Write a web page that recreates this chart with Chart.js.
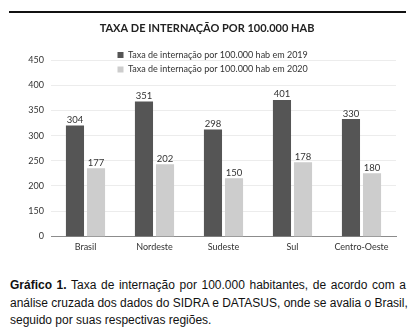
<!DOCTYPE html>
<html><head><meta charset="utf-8">
<script src="https://cdn.jsdelivr.net/npm/chart.js@4.4.0/dist/chart.umd.min.js"></script>
<style>
html,body{margin:0;padding:0;background:#fff;}
#wrap{position:relative;width:412px;height:334px;overflow:hidden;background:#fff;}
#rule{position:absolute;left:9px;top:11px;width:397px;height:2px;background:#111;}
#box{position:absolute;left:0;top:0;width:412px;height:262px;}
#cap{position:absolute;left:10px;top:277px;width:396px;font-family:"Liberation Sans",Arial,sans-serif;font-size:12px;line-height:17.5px;color:#111;}
#cap .j{text-align:justify;text-align-last:justify;white-space:nowrap;}
</style></head>
<body><div id="wrap"><div id="rule"></div>
<div id="box"><canvas id="cv" width="412" height="262"></canvas></div>
<div id="cap"><div class="j"><b>Gráfico 1.</b> Taxa de internação por 100.000 habitantes, de acordo com a</div><div class="j">análise cruzada dos dados do SIDRA e DATASUS, onde se avalia o Brasil,</div><div>seguido por suas respectivas regiões.</div></div>
</div>
<script>
const chartTitle = 'TAXA DE INTERNAÇÃO POR 100.000 HAB';
const categories = ['Brasil', 'Nordeste', 'Sudeste', 'Sul', 'Centro-Oeste'];
const seriesNames = ['Taxa de internação por 100.000 hab em 2019', 'Taxa de internação por 100.000 hab em 2020'];
// bar heights as drawn against the (broken) y axis of the picture
const bars2019 = [320, 368, 312, 371, 333];
const bars2020 = [235, 243, 215, 247, 225];
// values printed above the bars
const labels2019 = [304, 351, 298, 401, 330];
const labels2020 = [177, 202, 150, 178, 180];
// y axis: the bottom tick is labelled 0 in the picture
const yTickValues = [100, 150, 200, 250, 300, 350, 400, 450];
const yTickLabels = ['0', '150', '200', '250', '300', '350', '400', '450'];
const colors = ['#555555', '#cdcdcd'];

const FONT = 'Lato';

const valueLabels = {
  id: 'valueLabels',
  afterDatasetsDraw(chart) {
    const ctx = chart.ctx;
    const sets = [labels2019, labels2020];
    ctx.save();
    ctx.font = '9.5px ' + FONT;
    ctx.fillStyle = '#333';
    ctx.textAlign = 'center';
    ctx.textBaseline = 'alphabetic';
    chart.data.datasets.forEach((ds, di) => {
      chart.getDatasetMeta(di).data.forEach((el, i) => {
        ctx.fillText(String(sets[di][i]), el.x, el.y - 2.5);
      });
    });
    ctx.restore();
  }
};

const legendPlace = {
  id: 'legendPlace',
  afterLayout(chart) {
    const lg = chart.legend;
    if (!lg) return;
    const w = lg.width, h = lg.height;
    lg.left = 112; lg.right = lg.left + w;
    lg.top = 45; lg.bottom = lg.top + h;
  }
};

new Chart(document.getElementById('cv'), {
  type: 'bar',
  data: {
    labels: categories,
    datasets: [
      { label: seriesNames[0], data: bars2019, backgroundColor: colors[0], borderWidth: 0 },
      { label: seriesNames[1], data: bars2020, backgroundColor: colors[1], borderWidth: 0 }
    ]
  },
  options: {
    responsive: false,
    animation: false,
    devicePixelRatio: 1,
    categoryPercentage: 0.61,
    barPercentage: 0.86,
    layout: { padding: { top: 16, left: 18, right: 16, bottom: 5 } },
    plugins: {
      title: {
        display: true, text: chartTitle, color: '#222',
        font: { family: FONT, size: 11, weight: 'bold' },
        padding: { top: 6, bottom: 25 }
      },
      legend: {
        position: 'chartArea', align: 'start',
        labels: {
          boxWidth: 6, boxHeight: 6, padding: 5.5, color: '#333',
          font: { family: FONT, size: 9 }
        }
      },
      tooltip: { enabled: false }
    },
    scales: {
      x: {
        grid: { display: false, drawTicks: false },
        border: { display: true, color: '#8c8c8c', width: 1 },
        ticks: { color: '#333', font: { family: FONT, size: 9 }, padding: 5 }
      },
      y: {
        min: 100, max: 450,
        afterFit: (s) => { s.width = 33; },
        grid: { color: '#ececec', drawTicks: false },
        border: { display: false },
        ticks: {
          stepSize: 50, padding: 7, color: '#333', font: { family: FONT, size: 9 },
          callback: (v) => { const i = yTickValues.indexOf(v); return i >= 0 ? yTickLabels[i] : ''; }
        }
      }
    }
  },
  plugins: [valueLabels, legendPlace]
});
</script>
</body></html>
